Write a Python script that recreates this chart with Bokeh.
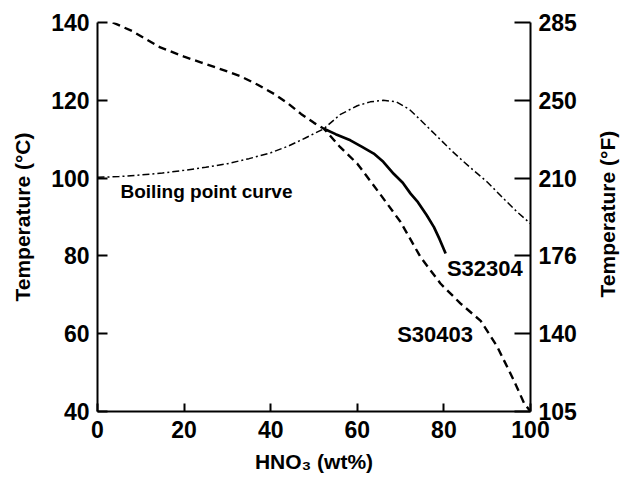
import math
from bokeh.plotting import figure
from bokeh.layouts import row
from bokeh.models import Range1d, LinearAxis, FixedTicker
from bokeh.core.properties import value
from bokeh.embed import file_html
from bokeh.resources import INLINE

# ---- data ----
boil_x = [0, 5, 10, 15, 20, 25, 30, 35, 40, 44, 48, 52.3, 56, 60, 63, 66, 69, 72, 75, 78, 82, 86, 90, 94, 97, 100]
boil_y = [100.2, 100.4, 100.8, 101.3, 102, 102.8, 103.7, 105, 106.5, 108.2, 110.3, 112.7, 116.3, 118.6, 119.6, 120, 119.6, 117.7, 114.5, 111.2, 106.8, 102.8, 99, 94.5, 91.2, 88.3]

s30403_x = [3.5, 8, 14.5, 20, 24, 28, 33, 37, 41, 44, 47, 50, 52.3, 56, 60, 65, 70, 74.6, 79.2, 83.8, 88.5, 92.3, 96.1, 98.5, 100]
s30403_y = [140, 137.8, 133.6, 131.2, 129.7, 128.2, 126.2, 124, 121.5, 119.2, 116.5, 114.2, 112.7, 108, 103.7, 96.3, 88.7, 79.7, 72.9, 67.8, 63.3, 56.7, 48.1, 42.2, 40]

s32304_x = [52.3, 55, 58.4, 61, 63.8, 66, 68.4, 70.5, 72.3, 74, 76, 77.7, 79, 80.4]
s32304_y = [112.7, 111.3, 109.7, 108.1, 106.3, 104.2, 101.1, 98.8, 96, 93.8, 90.5, 87.4, 84.3, 80.6]

x_ticks = [0, 20, 40, 60, 80, 100]
c_ticks = [40, 60, 80, 100, 120, 140]
f_labels = ["105", "140", "176", "210", "250", "285"]

FONT = "Liberation Sans"

p = figure(width=590, height=477, output_backend="svg", toolbar_location=None,
           x_range=Range1d(0, 100), y_range=Range1d(40, 140),
           min_border_left=97, min_border_right=60, min_border_top=22, min_border_bottom=66)
p.outline_line_color = None
p.xgrid.visible = False
p.ygrid.visible = False
p.background_fill_color = "white"
p.border_fill_color = "white"

p.line(boil_x, boil_y, line_color="black", line_width=1.5, line_dash="7 3 2 3")
p.line(s30403_x, s30403_y, line_color="black", line_width=2.4, line_dash="8 5")
p.line(s32304_x, s32304_y, line_color="black", line_width=2.7)

p.text(x=[5.3], y=[96.6], text=["Boiling point curve"], text_font=value(FONT),
       text_font_style="bold", text_font_size="19px", text_align="left",
       text_baseline="middle", text_color="black")
p.text(x=[80.7], y=[76.8], text=["S32304"], text_font=value(FONT),
       text_font_style="bold", text_font_size="22px", text_align="left",
       text_baseline="middle", text_color="black")
p.text(x=[69.2], y=[59.7], text=["S30403"], text_font=value(FONT),
       text_font_style="bold", text_font_size="22px", text_align="left",
       text_baseline="middle", text_color="black")

def style_axis(ax, tick_in):
    ax.axis_line_width = 2
    ax.axis_line_color = "black"
    ax.major_tick_line_width = 2
    ax.major_tick_in = tick_in
    ax.major_tick_out = 0
    ax.minor_tick_in = 0
    ax.minor_tick_out = 0
    ax.major_label_text_font = FONT
    ax.major_label_text_font_style = "bold"
    ax.major_label_text_font_size = "23px"
    ax.major_label_text_color = "black"
    ax.axis_label_text_font = FONT
    ax.axis_label_text_font_style = "bold"
    ax.axis_label_text_font_size = "21px"
    ax.axis_label_text_color = "black"
    ax.major_label_standoff = 8

xa = p.xaxis[0]
xa.ticker = FixedTicker(ticks=x_ticks)
xa.axis_label = "HNO₃ (wt%)"
style_axis(xa, 8)
xa.major_label_standoff = 9
xa.axis_label_standoff = 9

ya = p.yaxis[0]
ya.ticker = FixedTicker(ticks=c_ticks)
ya.axis_label = "Temperature (°C)"
style_axis(ya, 10)
ya.axis_label_standoff = 14

ra = LinearAxis(ticker=FixedTicker(ticks=c_ticks),
                major_label_overrides={t: l for t, l in zip(c_ticks, f_labels)})
style_axis(ra, 16)
p.add_layout(ra, "right")

# narrow strip on the right holding the °F title, reading bottom-to-top
t = figure(width=30, height=477, output_backend="svg", toolbar_location=None,
           x_range=Range1d(0, 30), y_range=Range1d(0, 477),
           x_axis_type=None, y_axis_type=None,
           min_border_left=0, min_border_right=0, min_border_top=0, min_border_bottom=0)
t.outline_line_color = None
t.background_fill_color = "white"
t.border_fill_color = "white"
t.text(x=[17], y=[242], text=["Temperature (°F)"], angle=math.pi / 2,
       text_font=value(FONT), text_font_style="bold", text_font_size="21px",
       text_align="center", text_baseline="middle", text_color="black")

layout = row(p, t, spacing=0)
open("out.html", "w").write(file_html(layout, INLINE))
